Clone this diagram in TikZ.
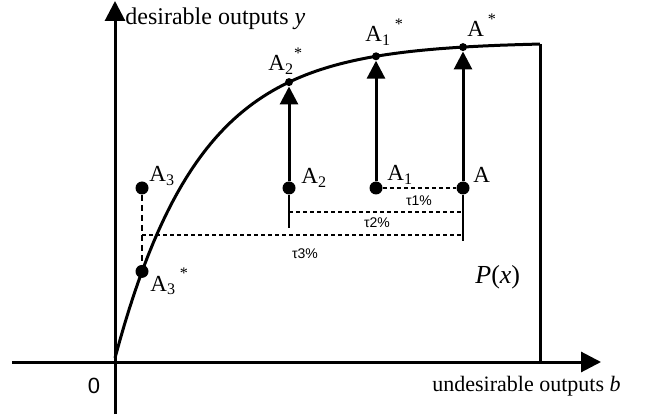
\documentclass[tikz,border=0pt]{standalone}
\usepackage{fontspec}
\setmainfont{Liberation Serif}
\newfontfamily\arialfont{Liberation Sans}
\usetikzlibrary{arrows.meta}
\newcommand{\axisfont}{\fontsize{11}{13}\selectfont}
\newcommand{\ptfont}{\fontsize{11.5}{13}\selectfont}
\newcommand{\st}{\textsuperscript{\raisebox{2pt}{*}}}
\tikzset{
 every node/.append style={inner sep=0pt},
 axis/.style={line width=1.5pt,-{Triangle[length=10pt,width=10pt]}},
 frontier/.style={line width=1.5pt},
 lift/.style={line width=1.5pt,-{Triangle[length=9pt,width=9pt]}},
 dot/.style={circle,fill=black,minimum size=6.5pt,inner sep=0pt},
 tip/.style={circle,fill=black,minimum size=4pt,inner sep=0pt},
 stem/.style={line width=1pt},
 gap/.style={line width=0.7pt,dash pattern=on 2pt off 1.5pt},
 drop/.style={line width=1.2pt,dash pattern=on 3pt off 2pt},
 pt/.style={font=\ptfont,anchor=base west},
 axisname/.style={font=\axisfont},
 pct/.style={font=\arialfont\fontsize{7}{8}\selectfont},
}

\begin{document}
\begin{tikzpicture}[x=0.5pt,y=-0.5pt]

\useasboundingbox (0,0) rectangle (646,416);

% axes
\coordinate (xl) at (12,362);
\coordinate (xr) at (601,362);
\coordinate (yb) at (115,414);
\coordinate (yt) at (115,1);
\draw[axis] (xl) -- (xr);
\draw[axis] (yb) -- (yt);
\node[axisname,font=\fontsize{12}{14}\selectfont,anchor=base west] (ylab) at (125,25) {desirable outputs \textit{y}};
\node[axisname,anchor=base east] (xlab) at (621,391) {undesirable outputs \textit{b}};
\node[font=\arialfont\fontsize{11}{13}\selectfont,anchor=base] (zero) at (94,393) {0};

% frontier
\draw[frontier] plot[domain=115:540,samples=90] (\x,{358-316*(1-exp(-0.01186*(\x-115)))});
\coordinate (fend) at (540,44);
\coordinate (fbase) at (540,362);
\draw[frontier] (fend) -- (fbase);
\node[font=\fontsize{13}{15}\selectfont,anchor=base west] (Px) at (475,283) {\textit{P}(\textit{x})};

% points
\node[dot] (A3) at (142,188) {};
\node[dot] (A3s) at (142,271.4) {};
\node[dot] (A2) at (289,188) {};
\node[tip] (A2s) at (289,82.1) {};
\node[dot] (A1) at (376,188) {};
\node[tip] (A1s) at (376,56.3) {};
\node[dot] (A) at (463,188) {};
\node[tip] (As) at (463,47.1) {};

\node[pt] (A3lab) at (149,182) {A\textsubscript{3}};
\node[pt] (A3slab) at (150,291) {A\textsubscript{3}\,\st};
\node[pt] (A2lab) at (301,184) {A\textsubscript{2}};
\node[pt] (A2slab) at (268,71) {A\textsubscript{2}\st};
\node[pt] (A1lab) at (387,181) {A\textsubscript{1}};
\node[pt] (A1slab) at (365,42) {A\textsubscript{1}\,\st};
\node[pt] (Alab) at (473,183) {A};
\node[pt] (Aslab) at (467,37) {A\,\st};

% projections
\draw[lift] (A2) -- (A2s);
\draw[lift] (A1) -- (A1s);
\draw[lift] (A) -- (As);
\draw[drop] (A3) -- (A3s);

% distances
\coordinate (A2b) at (289,228);
\coordinate (Ab) at (463,241);
\draw[stem] (A2) -- (A2b);
\draw[stem] (A) -- (Ab);
\coordinate (t2l) at (289,212);
\coordinate (t2r) at (463,212);
\coordinate (t3l) at (142,235);
\coordinate (t3r) at (463,235);
\draw[gap] (A1) -- (A);
\draw[gap] (t2l) -- (t2r);
\draw[gap] (t3l) -- (t3r);
\node[pct] (tau1) at (419,201) {τ1\%};
\node[pct] (tau2) at (377,223) {τ2\%};
\node[pct] (tau3) at (305,254) {τ3\%};

\end{tikzpicture}
\end{document}
